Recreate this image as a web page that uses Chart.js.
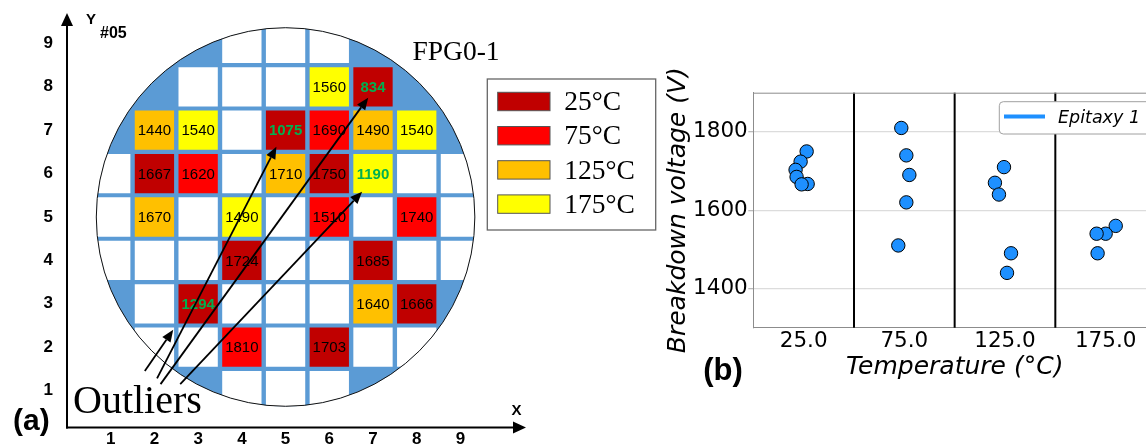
<!DOCTYPE html>
<html>
<head>
<meta charset="utf-8">
<script src="https://cdn.jsdelivr.net/npm/chart.js@4.4.0/dist/chart.umd.min.js"></script>
<style>
  html, body { margin: 0; padding: 0; background: #fff; overflow: hidden; }
  #wrap { position: relative; width: 1146px; height: 444px; overflow: hidden; }
  #boxA { position: absolute; left: 0; top: 0; width: 660px; height: 444px; }
  #boxB { position: absolute; left: 660px; top: 0; width: 520px; height: 444px; }
</style>
</head>
<body>
<div id="wrap">
  <div id="boxA"><canvas id="waferChart"></canvas></div>
  <div id="boxB"><canvas id="bvChart"></canvas></div>
</div>
<script>
// -----------------------------
// (a) Wafer map data: [column, row, breakdown voltage]
// -----------------------------
const tempLabels = ["25°C", "75°C", "125°C", "175°C"];
const tempColors = ["#C00000", "#FF0000", "#FFC000", "#FFFF00"];

const dies25 = [[7, 8, 834], [5, 7, 1075], [2, 6, 1667], [6, 6, 1750], [4, 4, 1724], [7, 4, 1685], [3, 3, 1294], [8, 3, 1666], [6, 2, 1703]];
const dies75 = [[6, 7, 1690], [3, 6, 1620], [6, 5, 1510], [8, 5, 1740], [4, 2, 1810]];
const dies125 = [[2, 7, 1440], [7, 7, 1490], [5, 6, 1710], [2, 5, 1670], [7, 3, 1640]];
const dies175 = [[6, 8, 1560], [3, 7, 1540], [8, 7, 1540], [7, 6, 1190], [4, 5, 1490]];
const outlierValues = [834, 1075, 1294, 1190];

// untested dies (white)
const emptyDies = [
  [4, 9], [5, 9], [6, 9],
  [3, 8], [4, 8], [5, 8],
  [4, 7],
  [1, 6], [4, 6], [8, 6], [9, 6],
  [1, 5], [3, 5], [5, 5], [7, 5], [9, 5],
  [1, 4], [2, 4], [3, 4], [5, 4], [6, 4], [8, 4], [9, 4],
  [2, 3], [4, 3], [5, 3], [6, 3],
  [2, 2], [3, 2], [5, 2], [7, 2], [8, 2],
  [4, 1], [5, 1], [6, 1]
];
const dieTicks = [1, 2, 3, 4, 5, 6, 7, 8, 9];
const waferCenter = [5, 5];
const waferRadius = 4.33; // in die pitches

// outlier arrows [fromCol, fromRow, toCol, toRow]
const outlierArrows = [
  [1.78, 1.45, 2.43, 2.40],
  [2.06, 1.28, 4.79, 6.62],
  [2.14, 1.15, 6.89, 7.75],
  [2.59, 1.15, 6.75, 5.58]
];

// -----------------------------
// (b) Breakdown voltage vs temperature
// -----------------------------
const tempTicks = ["25.0", "75.0", "125.0", "175.0"];
const bvTicks = [1400, 1600, 1800];
const bv25 = [1750, 1724, 1703, 1685, 1667, 1666];
const bv75 = [1810, 1740, 1690, 1620, 1510];
const bv125 = [1710, 1670, 1640, 1490, 1440];
const bv175 = [1560, 1540, 1540, 1490];
const jitter25 = [0.03, -0.03, -0.08, -0.07, 0.04, -0.02];
const jitter75 = [-0.03, 0.02, 0.05, 0.02, -0.06];
const jitter125 = [-0.01, -0.10, -0.06, 0.06, 0.02];
const jitter175 = [0.10, 0.00, -0.09, -0.08];
const groupSeparators = [0.5, 1.5, 2.5];

const SANS = "'Liberation Sans', Arial, sans-serif";
const SERIF = "'Liberation Serif', 'Times New Roman', serif";
const DEJAVU = "'DejaVu Sans', sans-serif";

// -----------------------------
// Helpers
// -----------------------------
function arrow(ctx, x0, y0, x1, y1, head, half, width) {
  const a = Math.atan2(y1 - y0, x1 - x0);
  const bx = x1 - head * Math.cos(a), by = y1 - head * Math.sin(a);
  ctx.beginPath();
  ctx.moveTo(x0, y0);
  ctx.lineTo(bx, by);
  ctx.lineWidth = width;
  ctx.strokeStyle = "#000";
  ctx.stroke();
  ctx.beginPath();
  ctx.moveTo(x1, y1);
  ctx.lineTo(bx + half * Math.sin(a), by - half * Math.cos(a));
  ctx.lineTo(bx - half * Math.sin(a), by + half * Math.cos(a));
  ctx.closePath();
  ctx.fillStyle = "#000";
  ctx.fill();
}

function text(ctx, str, x, y, font, align, baseline, color) {
  ctx.font = font;
  ctx.textAlign = align || "left";
  ctx.textBaseline = baseline || "alphabetic";
  ctx.fillStyle = color || "#000";
  ctx.fillText(str, x, y);
}

// -----------------------------
// Wafer map chart
// -----------------------------
const waferPlugin = {
  id: "waferDecor",
  beforeDatasetsDraw(chart) {
    const { ctx, scales: { x, y } } = chart;
    const cx = x.getPixelForValue(waferCenter[0]);
    const cy = y.getPixelForValue(waferCenter[1]);
    const r = x.getPixelForValue(waferCenter[0] + waferRadius) - cx;
    ctx.save();
    ctx.beginPath();
    ctx.arc(cx, cy, r, 0, 2 * Math.PI);
    ctx.fillStyle = "#5B9BD5";
    ctx.fill();
    ctx.clip();
  },
  afterDatasetsDraw(chart) {
    const { ctx, chartArea, scales: { x, y } } = chart;
    ctx.restore();
    const cx = x.getPixelForValue(waferCenter[0]);
    const cy = y.getPixelForValue(waferCenter[1]);
    const r = x.getPixelForValue(waferCenter[0] + waferRadius) - cx;
    ctx.save();
    ctx.beginPath();
    ctx.arc(cx, cy, r, 0, 2 * Math.PI);
    ctx.lineWidth = 1;
    ctx.strokeStyle = "#111";
    ctx.stroke();

    // values in cells
    chart.data.datasets.forEach((ds, i) => {
      if (i === 0) return;
      const meta = chart.getDatasetMeta(i);
      meta.data.forEach((el, j) => {
        const v = ds.data[j].v;
        const isOut = outlierValues.includes(v);
        text(ctx, String(v), el.x, el.y + 1,
          (isOut ? "bold " : "") + "15px " + SANS, "center", "middle", isOut ? "#00B050" : "#000");
      });
    });

    // outlier arrows
    outlierArrows.forEach(a => {
      arrow(ctx, x.getPixelForValue(a[0]), y.getPixelForValue(a[1]),
        x.getPixelForValue(a[2]), y.getPixelForValue(a[3]), 12, 5, 1.8);
    });

    // axes with arrow heads
    const L = chartArea.left, B = chartArea.bottom;
    arrow(ctx, L, B + 1, L, chartArea.top, 13, 6, 2);
    arrow(ctx, L - 1, B, chartArea.right, B, 13, 6, 2);

    text(ctx, "Y", 86, 24, "bold 15px " + SANS);
    text(ctx, "#05", 100, 37.5, "bold 16px " + SANS);
    text(ctx, "X", 511.5, 415, "bold 15px " + SANS);
    text(ctx, "FPG0-1", 412.5, 60, "27.5px " + SERIF);
    text(ctx, "Outliers", 73, 412.5, "40px " + SERIF);
    text(ctx, "(a)", 13, 430, "bold 30px " + SANS);

    // legend box
    ctx.lineWidth = 1.3;
    ctx.strokeStyle = "#666";
    ctx.strokeRect(487.3, 79, 168.4, 151);
    for (let i = 1; i < chart.data.datasets.length; i++) {
      const ds = chart.data.datasets[i];
      const yc = 101.5 + (i - 1) * 34.2;
      ctx.fillStyle = ds.backgroundColor;
      ctx.fillRect(497.7, yc - 9.2, 52.3, 18.4);
      ctx.lineWidth = 1;
      ctx.strokeStyle = "#555";
      ctx.strokeRect(497.7, yc - 9.2, 52.3, 18.4);
      text(ctx, ds.label, 564.3, yc + 1.5, "27.5px " + SERIF, "left", "middle");
    }
    ctx.restore();
  }
};

function dieData(list) {
  return list.map(d => ({ x: d[0], y: d[1], v: d[2] }));
}

const waferSets = [dies25, dies75, dies125, dies175].map((list, i) => ({
  label: tempLabels[i],
  data: dieData(list),
  backgroundColor: tempColors[i]
}));

new Chart(document.getElementById("waferChart"), {
  type: "scatter",
  data: {
    datasets: [{
      label: "untested",
      data: emptyDies.map(d => ({ x: d[0], y: d[1] })),
      backgroundColor: "#FFFFFF"
    }].concat(waferSets)
  },
  options: {
    responsive: true,
    maintainAspectRatio: false,
    animation: false,
    layout: { autoPadding: false, padding: { left: 0, top: 13, right: 134, bottom: 0 } },
    elements: { point: { pointStyle: "rect", radius: 27.8, hoverRadius: 27.8, borderWidth: 0 } },
    plugins: { legend: { display: false }, tooltip: { enabled: false } },
    scales: {
      x: {
        type: "linear", min: 0, max: 10.5,
        afterBuildTicks: s => { s.ticks = dieTicks.map(v => ({ value: v })); },
        afterFit: s => { s.height = 16.5; },
        grid: { display: false, drawTicks: true, tickLength: 2 },
        border: { display: false },
        ticks: { font: { family: SANS, size: 17, weight: "bold" }, color: "#000", padding: 0, maxRotation: 0, autoSkip: false }
      },
      y: {
        type: "linear", min: 0.15, max: 9.7,
        afterBuildTicks: s => { s.ticks = dieTicks.map(v => ({ value: v })); },
        afterFit: s => { s.width = 67; },
        grid: { display: false, drawTicks: true, tickLength: 14 },
        border: { display: false },
        ticks: { font: { family: SANS, size: 17, weight: "bold" }, color: "#000", padding: 0, autoSkip: false }
      }
    }
  },
  plugins: [waferPlugin]
});

// -----------------------------
// Breakdown voltage chart
// -----------------------------
const bvGroups = [bv25, bv75, bv125, bv175];
const bvJitter = [jitter25, jitter75, jitter125, jitter175];
const bvPoints = [];
bvGroups.forEach((vals, i) => {
  vals.forEach((v, j) => bvPoints.push({ x: i + bvJitter[i][j], y: v }));
});

const bvPlugin = {
  id: "bvDecor",
  beforeDatasetsDraw(chart) {
    const { ctx, chartArea, scales: { x } } = chart;
    ctx.save();
    ctx.strokeStyle = "#000";
    ctx.lineWidth = 2;
    groupSeparators.forEach(s => {
      const px = x.getPixelForValue(s);
      ctx.beginPath();
      ctx.moveTo(px, chartArea.top);
      ctx.lineTo(px, chartArea.bottom);
      ctx.stroke();
    });
    ctx.strokeStyle = "#8c8c8c";
    ctx.lineWidth = 1;
    ctx.beginPath();
    ctx.moveTo(chartArea.left, chartArea.top + 0.5);
    ctx.lineTo(chartArea.right, chartArea.top + 0.5);
    ctx.stroke();
    ctx.restore();
  },
  afterDatasetsDraw(chart) {
    const { ctx } = chart;
    const ds = chart.data.datasets[0];
    ctx.save();
    ctx.beginPath();
    ctx.roundRect(339.3, 101.7, 220, 32.3, 4);
    ctx.fillStyle = "#fff";
    ctx.fill();
    ctx.lineWidth = 1;
    ctx.strokeStyle = "#a0a0a0";
    ctx.stroke();
    ctx.beginPath();
    ctx.moveTo(344, 116.5);
    ctx.lineTo(385, 116.5);
    ctx.lineWidth = 4;
    ctx.strokeStyle = ds.backgroundColor;
    ctx.stroke();
    text(ctx, ds.label, 398, 123.3, "italic 17.5px " + DEJAVU);
    text(ctx, "(b)", 43.3, 380, "bold 31px " + SANS);
    ctx.restore();
  }
};

new Chart(document.getElementById("bvChart"), {
  type: "scatter",
  data: {
    datasets: [{
      label: "Epitaxy 1",
      data: bvPoints,
      backgroundColor: "#1E90FF",
      borderColor: "#000",
      borderWidth: 1,
      pointRadius: 6.7,
      pointHoverRadius: 6.7
    }]
  },
  options: {
    responsive: true,
    maintainAspectRatio: false,
    animation: false,
    layout: { autoPadding: false, padding: { left: 0, top: 92.7, right: 24, bottom: 61.5 } },
    plugins: { legend: { display: false }, tooltip: { enabled: false } },
    scales: {
      x: {
        type: "linear", min: -0.5, max: 3.5,
        afterBuildTicks: s => { s.ticks = tempTicks.map((t, i) => ({ value: i })); },
        afterFit: s => { s.height = 54.8; },
        grid: { display: false, drawTicks: false },
        border: { color: "#8c8c8c", width: 1 },
        ticks: {
          callback: (v, i) => tempTicks[i],
          font: { family: DEJAVU, size: 21.5 }, color: "#000", padding: 1, maxRotation: 0, autoSkip: false
        },
        title: {
          display: true, text: "Temperature (°C)", color: "#000",
          font: { family: DEJAVU, size: 25, style: "italic" }, padding: { top: 0, bottom: 0 }
        }
      },
      y: {
        type: "linear", min: 1300, max: 1900,
        afterBuildTicks: s => { s.ticks = bvTicks.map(v => ({ value: v })); },
        afterFit: s => { s.width = 93.3; },
        grid: { color: "#dcdcdc", lineWidth: 1.3, tickLength: 5, tickColor: "#bbbbbb" },
        border: { color: "#8c8c8c", width: 1 },
        ticks: {
          callback: v => String(v),
          font: { family: DEJAVU, size: 21.5 }, color: "#000", padding: 0.5, autoSkip: false
        },
        title: {
          display: true, text: "Breakdown voltage (V)", color: "#000",
          font: { family: DEJAVU, size: 25, style: "italic" }, padding: { top: 3.5, bottom: 0 }
        }
      }
    }
  },
  plugins: [bvPlugin]
});
</script>
</body>
</html>
